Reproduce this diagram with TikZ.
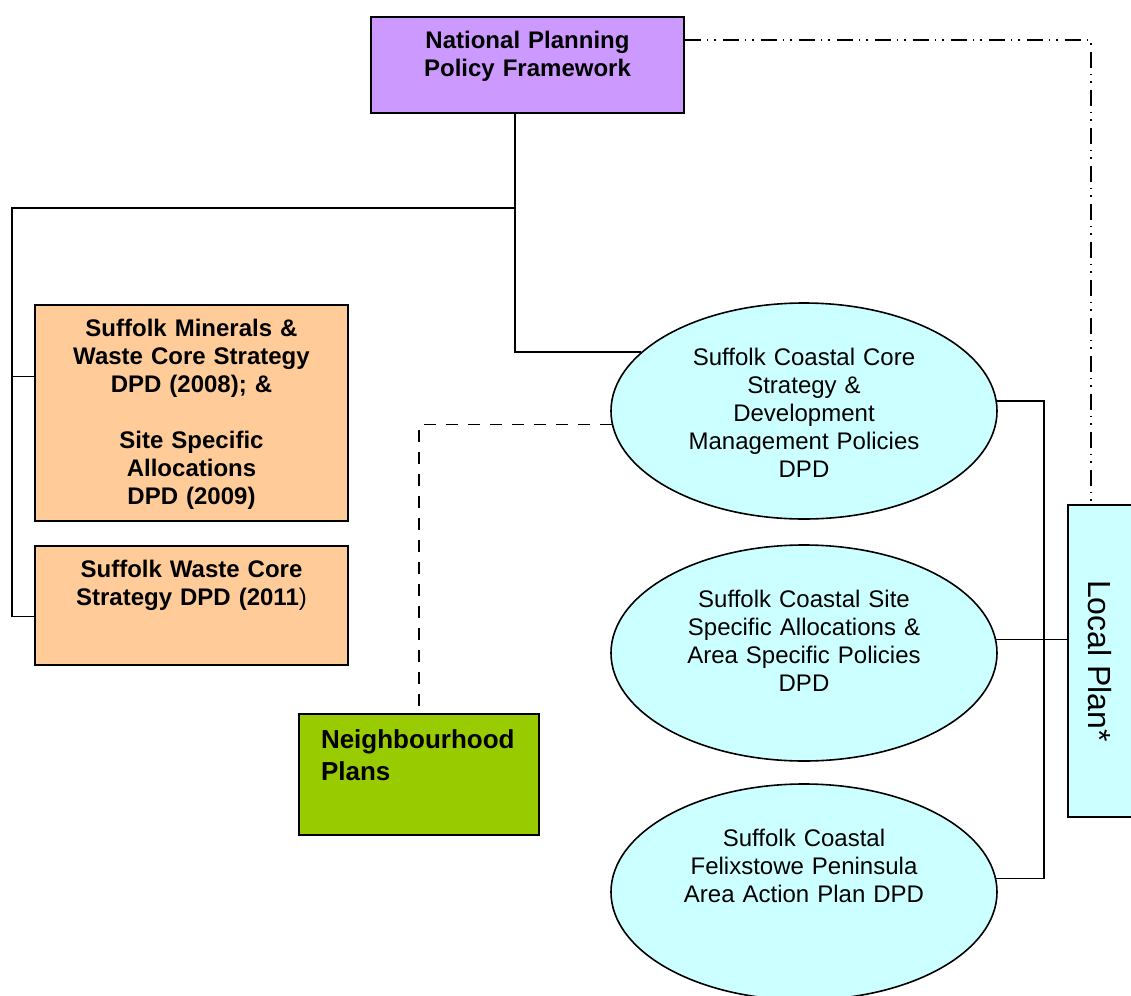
\documentclass[tikz,border=0pt]{standalone}
\usepackage{fontspec}
\setmainfont{Liberation Sans}
\usetikzlibrary{shapes.geometric}
\definecolor{npurple}{HTML}{CC99FF}
\definecolor{norange}{HTML}{FFCC99}
\definecolor{ncyan}{HTML}{CCFFFF}
\definecolor{ngreen}{HTML}{99CC00}
\begin{document}
\begin{tikzpicture}[x=0.5pt,y=-0.5pt,
    every node/.style={font=\fontsize{12}{14}\selectfont},
    box/.style={draw,line width=0.8pt,anchor=north,inner sep=0pt,align=center,text width=156.5pt,text height=16pt,font=\bfseries\fontsize{12}{14}\selectfont},
    plan/.style={draw,line width=0.8pt,ellipse,fill=ncyan,minimum width=193pt,minimum height=108pt,inner sep=0pt,align=center,text width=130pt,text height=12pt,text depth=58pt},
    link/.style={line width=0.75pt}]
    \useasboundingbox (0,0) rectangle (1131,996);
    \node[box,fill=npurple,text depth=32pt] (nppf) at (527.5,16) {National Planning\\Policy Framework};
    \node[box,fill=norange,text depth=92pt] (minerals) at (191.5,304) {Suffolk Minerals \&\\Waste Core Strategy\\DPD (2008); \&\\[14pt]Site Specific\\Allocations\\DPD (2009)};
    \node[box,fill=norange,text depth=43.5pt] (waste) at (191.5,545) {Suffolk Waste Core\\Strategy DPD (2011{\mdseries )}};
    \node[box,fill=ngreen,inner xsep=11pt,text width=98pt,align=left,text height=17.5pt,text depth=43pt,font=\bfseries\fontsize{13}{16}\selectfont] (nbh) at (419,713) {Neighbourhood\\Plans};
    \node[plan] (core) at (804,411) {Suffolk Coastal Core\\Strategy \&\\Development\\Management Policies\\DPD};
    \node[plan] (site) at (804,653) {Suffolk Coastal Site\\Specific Allocations \&\\Area Specific Policies\\DPD};
    \node[plan] (aap) at (804,892) {Suffolk Coastal\\Felixstowe Peninsula\\Area Action Plan DPD};
    \node[draw,line width=0.8pt,fill=ncyan,rotate=-90,minimum width=156pt,minimum height=32pt,inner sep=0pt,font=\fontsize{16}{19}\selectfont] (local) at (1100,661) {Local Plan*};
    \coordinate (jn) at (515,208);
    \coordinate (lft) at (12,208);
    \coordinate (rsp) at (1044,640);
    \draw[link] (nppf.south -| jn) -- (jn) |- (core.160);
    \draw[link] (jn) -- (lft) |- (waste.184);
    \draw[link] (lft |- minerals.167) -- (minerals.167);
    \draw[link] (core.3) -| (rsp) |- (aap.4);
    \draw[link] (site.4) -- (site.4 -| local.south);
    \draw[link,dash pattern=on 6pt off 5pt] (core.184) -| (nbh.north);
    \draw[link,dash pattern=on 8pt off 3pt on 0.8pt off 3pt on 0.8pt off 3.4pt] (nppf.9) -| ([xshift=-4.5pt]local.west);
\end{tikzpicture}
\end{document}
